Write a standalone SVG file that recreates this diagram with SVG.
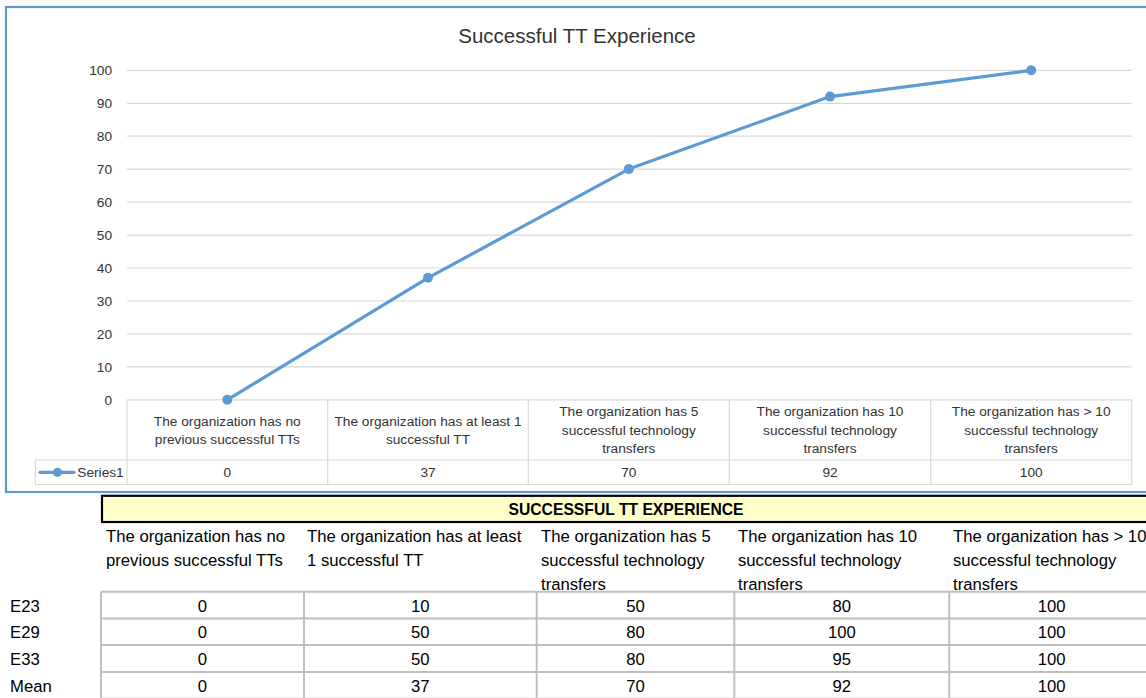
<svg xmlns="http://www.w3.org/2000/svg" width="1146" height="698" viewBox="0 0 1146 698">
<style>
.ct{font-family:"Liberation Sans",Arial,sans-serif;font-size:13.7px;fill:#333}
.cc{text-anchor:middle}
.ya{text-anchor:end}
.grid{stroke:#D9D9D9;stroke-width:1.2}
.tb{font-family:"Liberation Sans",Arial,sans-serif;font-size:16.7px;fill:#000}
.tg{stroke:#BFBFBF;stroke-width:2;fill:none}
.ser{fill:none;stroke:#5B9BD5;stroke-width:3.2;stroke-linejoin:round;stroke-linecap:round}
.mk{fill:#5B9BD5}
</style>
<rect x="0" y="0" width="1146" height="698" fill="#fff"/>
<g id="chart">
<rect x="6" y="7" width="1142" height="485" fill="#fff" stroke="#5B9BD5" stroke-width="2.2"/>
<text x="577" y="43" class="ct cc" style="font-size:20.5px">Successful TT Experience</text>
<g id="gridlines">
<line class="grid" x1="127" y1="70.3" x2="1132" y2="70.3"/>
<line class="grid" x1="127" y1="103.3" x2="1132" y2="103.3"/>
<line class="grid" x1="127" y1="136.2" x2="1132" y2="136.2"/>
<line class="grid" x1="127" y1="169.2" x2="1132" y2="169.2"/>
<line class="grid" x1="127" y1="202.1" x2="1132" y2="202.1"/>
<line class="grid" x1="127" y1="235.1" x2="1132" y2="235.1"/>
<line class="grid" x1="127" y1="268" x2="1132" y2="268"/>
<line class="grid" x1="127" y1="301" x2="1132" y2="301"/>
<line class="grid" x1="127" y1="333.9" x2="1132" y2="333.9"/>
<line class="grid" x1="127" y1="366.9" x2="1132" y2="366.9"/>
<line class="grid" x1="127" y1="399.8" x2="1132" y2="399.8"/>
</g>
<g id="yaxis" class="ct ya">
<text x="112" y="75">100</text>
<text x="112" y="108">90</text>
<text x="112" y="141">80</text>
<text x="112" y="174">70</text>
<text x="112" y="207">60</text>
<text x="112" y="240">50</text>
<text x="112" y="273">40</text>
<text x="112" y="306">30</text>
<text x="112" y="339">20</text>
<text x="112" y="372">10</text>
<text x="112" y="405">0</text>
</g>
<g id="datatable">
<path class="grid" d="M127 399.8V484.5M327.7 399.8V484.5M528.3 399.8V484.5M729.3 399.8V484.5M930.7 399.8V484.5M1131.7 399.8V484.5M35.3 460V484.5M35.3 460H1131.7M35.3 484.5H1131.7"/>
<g class="ct cc">
<text x="227.3" y="425.7">The organization has no</text>
<text x="227.3" y="444.3">previous successful TTs</text>
<text x="428" y="425.7">The organization has at least 1</text>
<text x="428" y="444.3">successful TT</text>
<text x="628.8" y="416">The organization has 5</text>
<text x="628.8" y="434.5">successful technology</text>
<text x="628.8" y="453">transfers</text>
<text x="830" y="416">The organization has 10</text>
<text x="830" y="434.5">successful technology</text>
<text x="830" y="453">transfers</text>
<text x="1031.2" y="416">The organization has &gt; 10</text>
<text x="1031.2" y="434.5">successful technology</text>
<text x="1031.2" y="453">transfers</text>
<text x="227.3" y="476.7">0</text>
<text x="428" y="476.7">37</text>
<text x="628.8" y="476.7">70</text>
<text x="830" y="476.7">92</text>
<text x="1031.2" y="476.7">100</text>
</g>
<line x1="40" y1="472.3" x2="74" y2="472.3" stroke="#5B9BD5" stroke-width="3.2" stroke-linecap="round"/>
<circle class="mk" cx="57.5" cy="472.3" r="4.6"/>
<text x="77.3" y="476.7" class="ct">Series1</text>
</g>
<g id="series">
<polyline class="ser" points="227.3,399.8 428,277.8 628.8,169.1 830,96.6 1031.2,70.3"/>
<circle class="mk" cx="227.3" cy="399.8" r="5"/>
<circle class="mk" cx="428" cy="277.8" r="5"/>
<circle class="mk" cx="628.8" cy="169.1" r="5"/>
<circle class="mk" cx="830" cy="96.6" r="5"/>
<circle class="mk" cx="1031.2" cy="70.3" r="5"/>
</g>
</g>
<g id="table">
<rect x="102" y="495.8" width="1060" height="26.2" fill="#FFFFCC" stroke="#000" stroke-width="2.2"/>
<text x="626" y="515" class="tb" style="font-weight:bold;text-anchor:middle;font-size:15.7px">SUCCESSFUL TT EXPERIENCE</text>
<g class="tb">
<text x="106" y="541.7">The organization has no</text>
<text x="106" y="566">previous successful TTs</text>
<text x="307" y="541.7">The organization has at least</text>
<text x="307" y="566">1 successful TT</text>
<text x="541" y="541.7">The organization has 5</text>
<text x="541" y="566">successful technology</text>
<text x="541" y="589.5">transfers</text>
<text x="738" y="541.7">The organization has 10</text>
<text x="738" y="566">successful technology</text>
<text x="738" y="589.5">transfers</text>
<text x="953" y="541.7">The organization has &gt; 10</text>
<text x="953" y="566">successful technology</text>
<text x="953" y="589.5">transfers</text>
</g>
<path class="tg" d="M101 591.7H1160M101 618.4H1160M101 645.1H1160M101 672H1160M101 698.7H1160M101 591.7V700M304 591.7V700M536.7 591.7V700M734.3 591.7V700M949.3 591.7V700"/>
<g class="tb">
<text x="10" y="611.7">E23</text>
<text x="10" y="638.3">E29</text>
<text x="10" y="665">E33</text>
<text x="10" y="691.7">Mean</text>
</g>
<g class="tb" text-anchor="middle">
<text x="202.5" y="611.7">0</text>
<text x="420.3" y="611.7">10</text>
<text x="635.5" y="611.7">50</text>
<text x="841.8" y="611.7">80</text>
<text x="1051.7" y="611.7">100</text>
<text x="202.5" y="638.3">0</text>
<text x="420.3" y="638.3">50</text>
<text x="635.5" y="638.3">80</text>
<text x="841.8" y="638.3">100</text>
<text x="1051.7" y="638.3">100</text>
<text x="202.5" y="665">0</text>
<text x="420.3" y="665">50</text>
<text x="635.5" y="665">80</text>
<text x="841.8" y="665">95</text>
<text x="1051.7" y="665">100</text>
<text x="202.5" y="691.7">0</text>
<text x="420.3" y="691.7">37</text>
<text x="635.5" y="691.7">70</text>
<text x="841.8" y="691.7">92</text>
<text x="1051.7" y="691.7">100</text>
</g>
</g>
</svg>
